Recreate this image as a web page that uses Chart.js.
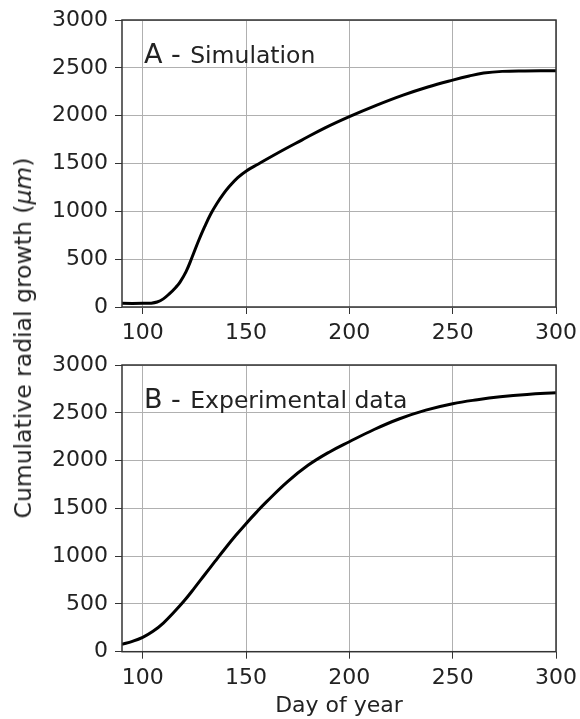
<!DOCTYPE html>
<html>
<head>
<meta charset="utf-8">
<script src="https://cdn.jsdelivr.net/npm/chart.js@4.4.0/dist/chart.umd.min.js"></script>
<style>
  html, body { margin: 0; padding: 0; background: #fff; }
  #wrap { position: relative; width: 580px; height: 719px; overflow: hidden; }
  #topChart { position: absolute; left: 0; top: 0; }
  #bottomChart { position: absolute; left: 0; top: 340px; }
  #yTitle {
    position: absolute; left: 23px; top: 338px;
    transform: translate(-50%, -50%) rotate(-90deg);
    white-space: nowrap;
    font-family: "DejaVu Sans", sans-serif; font-size: 23.5px; color: #222;
  }
</style>
</head>
<body>
<div id="wrap">
  <canvas id="topChart" width="580" height="340"></canvas>
  <canvas id="bottomChart" width="580" height="379"></canvas>
  <div id="yTitle">Cumulative radial growth (<i>μm</i>)</div>
</div>
<script>
// Panel A - simulation (day of year, cumulative growth in µm)
const simDays = [90, 100, 104, 107, 110, 113, 116, 118, 121, 124, 127, 130, 133, 136, 139, 142, 146, 150, 156, 166, 177, 188, 200, 213, 226, 238, 250, 258, 265, 274, 285, 300];
const simGrowth = [38, 38, 40, 52, 85, 140, 205, 258, 370, 525, 690, 840, 975, 1085, 1180, 1262, 1352, 1420, 1495, 1618, 1745, 1870, 1990, 2108, 2215, 2300, 2372, 2415, 2445, 2463, 2468, 2470];

// Panel B - experimental data
const expDays = [90, 95, 100, 105, 110, 115, 120, 125, 130, 135, 140, 145, 150, 155, 160, 170, 180, 190, 200, 212, 224, 237, 250, 262, 273, 286, 300];
const expGrowth = [78, 108, 150, 213, 300, 410, 530, 665, 805, 945, 1083, 1215, 1340, 1458, 1570, 1777, 1950, 2085, 2197, 2325, 2435, 2528, 2595, 2637, 2667, 2692, 2710];

// Axis ticks
const xTicks = [100, 150, 200, 250, 300];
const yTicks = [0, 500, 1000, 1500, 2000, 2500, 3000];

const FONT = 'DejaVu Sans';
const TEXT = '#222';

/**
 * Draws all four spines and the panel label
 */
const framePlugin = {
  id: 'frame',
  afterDraw(chart, args, opts) {
    const { ctx, chartArea } = chart;
    const xs = chart.scales.x;
    const ys = chart.scales.y;
    ctx.save();
    ctx.strokeStyle = '#333';
    ctx.lineWidth = 1.5;
    ctx.strokeRect(chartArea.left, chartArea.top, chartArea.right - chartArea.left, chartArea.bottom - chartArea.top);

    // Panel label: big letter, smaller description
    const px = xs.getPixelForValue(100.6);
    const py = ys.getPixelForValue(2555);
    ctx.fillStyle = TEXT;
    ctx.textBaseline = 'alphabetic';
    ctx.font = '27px "' + FONT + '"';
    ctx.fillText(opts.letter, px, py);
    const w = ctx.measureText(opts.letter).width;
    ctx.font = '23.5px "' + FONT + '"';
    ctx.fillText(opts.text, px + w + 2, py);
    ctx.restore();
  },
};

/**
 * Builds options for one panel
 * @param {object} cfg Panel settings
 */
function panelOptions(cfg) {
  return {
    responsive: false,
    animation: false,
    layout: { padding: { top: cfg.padTop, right: 24, left: 0, bottom: 0 } },
    plugins: {
      legend: { display: false },
      tooltip: { enabled: false },
      frame: { letter: cfg.letter, text: cfg.text },
    },
    scales: {
      x: {
        type: 'linear',
        min: 90,
        max: 300,
        afterBuildTicks: (scale) => { scale.ticks = xTicks.map((v) => ({ value: v })); },
        afterFit: (scale) => {
          scale.height = cfg.xHeight;
          scale.paddingLeft = 0;
          scale.paddingRight = 0;
        },
        grid: { color: '#b0b0b0', lineWidth: 1, tickColor: '#333', tickLength: 7 },
        border: { display: false },
        ticks: {
          color: TEXT, font: { family: FONT, size: 22 }, padding: 6, maxRotation: 0,
          callback: (v) => String(v),
        },
        title: cfg.xTitle
          ? { display: true, text: 'Day of year', color: TEXT, font: { family: FONT, size: 22 }, padding: { top: 0, bottom: 0 } }
          : { display: false },
      },
      y: {
        min: 0,
        max: 3000,
        afterBuildTicks: (scale) => { scale.ticks = yTicks.map((v) => ({ value: v })); },
        afterFit: (scale) => {
          scale.width = 122;
          scale.paddingTop = 0;
          scale.paddingBottom = 0;
        },
        grid: { color: '#b0b0b0', lineWidth: 1, tickColor: '#333', tickLength: 7 },
        border: { display: false },
        ticks: {
          color: TEXT, font: { family: FONT, size: 22 }, padding: 7,
          callback: (v) => String(v),
        },
      },
    },
  };
}

/**
 * Creates one panel chart
 */
function createPanel(canvasId, days, growth, cfg) {
  const canvas = document.getElementById(canvasId);
  return new Chart(canvas.getContext('2d'), {
    type: 'line',
    data: {
      datasets: [{
        data: days.map((d, i) => ({ x: d, y: growth[i] })),
        borderColor: '#000',
        borderWidth: 3,
        pointRadius: 0,
        tension: 0.4,
        fill: false,
      }],
    },
    options: panelOptions(cfg),
    plugins: [framePlugin],
  });
}

createPanel('topChart', simDays, simGrowth, {
  letter: 'A -', text: ' Simulation', padTop: 20, xHeight: 33, xTitle: false,
});
createPanel('bottomChart', expDays, expGrowth, {
  letter: 'B -', text: ' Experimental data', padTop: 25, xHeight: 67.3, xTitle: true,
});
</script>
</body>
</html>
